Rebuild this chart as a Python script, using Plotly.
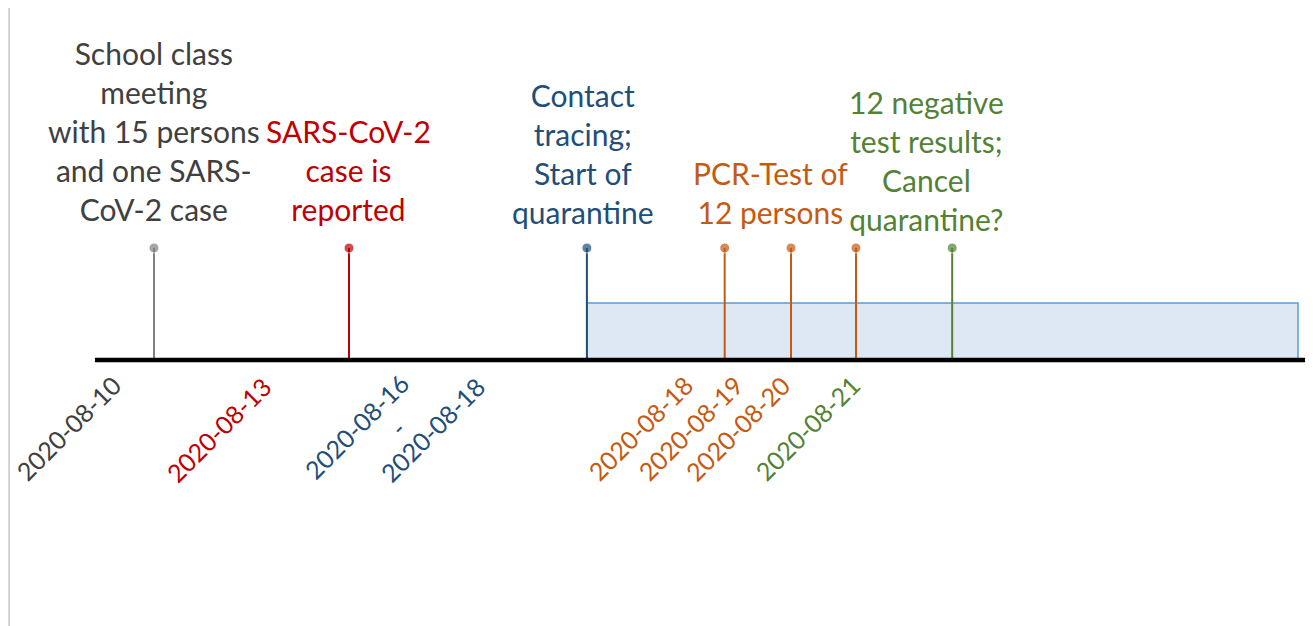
import plotly.graph_objects as go

# ---- data ----
event_texts = [
    "School class<br>meeting<br>with 15 persons<br>and one SARS-<br>CoV-2 case",
    "SARS-CoV-2<br>case is<br>reported",
    "Contact<br>tracing;<br>Start of<br>quarantine",
    "PCR-Test of<br>12 persons",
    "12 negative<br>test results;<br>Cancel<br>quarantine?",
]
event_text_x = [0.0, 3.0, 6.6, 9.48, 11.88]
event_text_y = [1.31, 1.31, 1.28, 1.28, 1.21]
event_colors = ["#404040", "#c00000", "#1f4e79", "#c55a11", "#538135"]

stem_x = [0.0, 3.0, 6.66, 8.78, 9.8, 10.8, 12.28]
stem_height = [1.12, 1.12, 1.12, 1.12, 1.12, 1.12, 1.12]
stem_colors = ["#7f7f7f", "#c00000", "#1f4e79", "#c55a11", "#c55a11", "#c55a11", "#538135"]

date_labels = ["2020-08-10", "2020-08-13", "2020-08-16", "-", "2020-08-18",
               "2020-08-18", "2020-08-19", "2020-08-20", "2020-08-21"]
date_label_x = [-1.32, 1.0, 3.12, 3.74, 4.29, 7.48, 8.25, 8.98, 10.05]
date_label_y = [-0.68, -0.69, -0.66, -0.68, -0.69, -0.68, -0.68, -0.68, -0.68]
date_colors = ["#404040", "#c00000", "#1f4e79", "#1f4e79", "#1f4e79",
               "#c55a11", "#c55a11", "#c55a11", "#538135"]

timeline_start = -0.908
timeline_end = 17.785
quarantine_start = 6.66
quarantine_end = 17.6
quarantine_level = 0.57

FONT = "Lato"

fig = go.Figure()

# quarantine period
fig.add_shape(type="rect", x0=quarantine_start, x1=quarantine_end, y0=0, y1=quarantine_level,
              xref="x", yref="y", fillcolor="#dee8f5",
              line=dict(color="#5b9bd5", width=1.5), layer="below")

# timeline axis
fig.add_shape(type="line", x0=timeline_start, x1=timeline_end, y0=0, y1=0,
              xref="x", yref="y", line=dict(color="black", width=4.5))

# stems
for x, h, c in zip(stem_x, stem_height, stem_colors):
    fig.add_trace(go.Scatter(x=[x, x], y=[0, h], mode="lines+markers",
                             line=dict(color=c, width=2),
                             marker=dict(size=[0, 10], color=c),
                             showlegend=False, hoverinfo="skip"))

# event descriptions
for t, x, y, c in zip(event_texts, event_text_x, event_text_y, event_colors):
    fig.add_annotation(x=x, y=y, text=t, showarrow=False, xanchor="center",
                       yanchor="bottom", align="center",
                       font=dict(family=FONT, size=30, color=c))

# date labels
for t, x, y, c in zip(date_labels, date_label_x, date_label_y, date_colors):
    fig.add_annotation(x=x, y=y, text=t, showarrow=False, textangle=-45,
                       xanchor="center", yanchor="middle",
                       font=dict(family=FONT, size=25, color=c))

# left border line
fig.add_shape(type="line", xref="paper", yref="paper", x0=0.0008, x1=0.0008,
              y0=0, y1=1, line=dict(color="#c8c8c8", width=1.5))

fig.update_layout(
    width=1305, height=618,
    margin=dict(l=0, r=0, t=0, b=0),
    paper_bgcolor="white", plot_bgcolor="white",
    xaxis=dict(range=[-2.246, 17.831], visible=False, fixedrange=True),
    yaxis=dict(range=[-2.66, 3.52], visible=False, fixedrange=True),
    showlegend=False,
)

fig.write_html("out.html")
